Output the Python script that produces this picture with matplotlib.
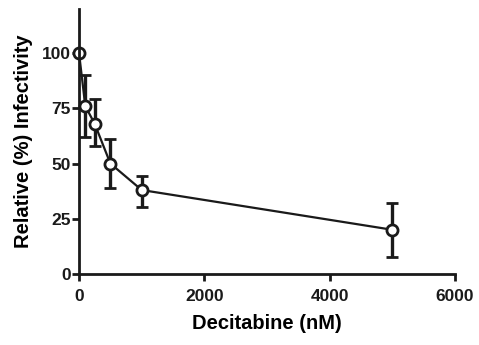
import matplotlib
matplotlib.use('Agg')
import matplotlib.pyplot as plt

# data
dose = [0, 100, 250, 500, 1000, 5000]
infectivity = [100, 76, 68, 50, 38, 20]
err_low = [0, 14, 10, 11, 7.5, 12.5]
err_high = [0, 14, 11, 11, 6.5, 12]
xticks = [0, 2000, 4000, 6000]
yticks = [0, 25, 50, 75, 100]

plt.rcParams['font.family'] = ['Liberation Sans', 'DejaVu Sans']
plt.rcParams['font.weight'] = 'bold'

fig = plt.figure(figsize=(4.79, 3.45), dpi=100)
ax = fig.add_axes([0.165, 0.206, 0.785, 0.768])

ax.errorbar(dose, infectivity, yerr=[err_low, err_high],
            color='#1a1a1a', linewidth=1.6, elinewidth=2.4,
            capsize=4.5, capthick=2.4,
            marker='o', markersize=8, markerfacecolor='white',
            markeredgewidth=2, markeredgecolor='#1a1a1a')

ax.set_xlim(0, 6000)
ax.set_ylim(0, 120)
ax.set_xticks(xticks)
ax.set_yticks(yticks)
for s in ['top', 'right']:
    ax.spines[s].set_visible(False)
for s in ['left', 'bottom']:
    ax.spines[s].set_linewidth(2)
    ax.spines[s].set_color('#1a1a1a')
ax.tick_params(direction='out', length=5, width=2, colors='#1a1a1a',
               labelsize=12.5)
ax.tick_params(axis='x', pad=6)
ax.tick_params(axis='y', pad=1)
for lbl in ax.get_xticklabels() + ax.get_yticklabels():
    lbl.set_fontweight('bold')

ax.set_xlabel('Decitabine (nM)', fontsize=14.5, fontweight='bold', labelpad=7)
ax.set_ylabel('Relative (%) Infectivity', fontsize=14.5, fontweight='bold', labelpad=6)
for c in ax.get_children():
    try:
        c.set_clip_on(False)
    except Exception:
        pass

fig.savefig('out.png', dpi=100)
